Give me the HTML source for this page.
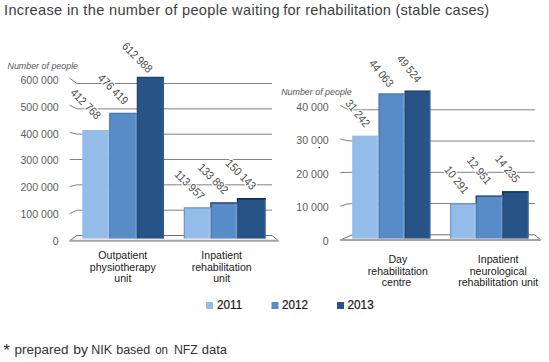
<!DOCTYPE html>
<html><head><meta charset="utf-8"><style>
html,body{margin:0;padding:0;background:#fff;width:549px;height:362px;overflow:hidden}
svg{display:block}
text{font-family:"Liberation Sans",sans-serif}
.t{font-size:14.6px;fill:#3d3d3d}
.fn{font-size:13.3px;fill:#333}
.g path{fill:none;stroke:#808080;stroke-width:1}
.fb{fill:none;stroke:#707070;stroke-width:1}
.ff{stroke:#a4a4a4;stroke-width:2}
.dl{fill:#505050;text-anchor:middle;stroke:#fff;stroke-width:2.2px;paint-order:stroke;stroke-linejoin:round}
.ax{font-size:10.6px;fill:#606060;text-anchor:end}
.np{font-size:8.9px;font-style:italic;fill:#555}
.cat{font-size:10.6px;fill:#1a1a1a;text-anchor:middle}
.lg{font-size:12.6px;fill:#1a1a1a;stroke:#1a1a1a;stroke-width:0.25px}
</style></head><body>
<svg width="549" height="362" viewBox="0 0 549 362">
<text class="t" x="4" y="14.8" textLength="275.5" lengthAdjust="spacing">Increase in the number of people waiting</text><text class="t" x="283.2" y="14.8" textLength="206.0" lengthAdjust="spacing">for rehabilitation (stable cases)</text>
<g class="g"><path d="M69.6,213.68 L76.8,210.17 L272,210.17" /><path d="M69.6,186.56 L76.8,184.84 L272,184.84" /><path d="M69.6,159.44 L76.8,159.51 L272,159.51" /><path d="M69.6,132.32 L76.8,134.18 L272,134.18" /><path d="M69.6,105.20 L76.8,108.85 L272,108.85" /><path d="M69.6,78.08 L76.8,83.52 L272,83.52" /><path d="M340.3,206.30 Q346.25,203.55 352.2,203.55 L534.8,203.55" /><path d="M340.3,172.60 Q346.25,172.30 352.2,172.30 L534.8,172.30" /><path d="M340.3,138.90 Q346.25,141.05 352.2,141.05 L534.8,141.05" /><path d="M340.3,105.20 Q346.25,109.80 352.2,109.80 L534.8,109.80" /></g>
<path class="fb" d="M69.6,240.8 L76.8,235.5 L272,235.5 L278.5,240.8" /><line class="ff" x1="69.6" y1="240.80" x2="278.5" y2="240.80" /><path class="fb" d="M340.3,240.0 L352.2,234.8 L534.8,234.8 L540.7,240.0" /><line class="ff" x1="340.3" y1="240.00" x2="540.7" y2="240.00" />
<rect x="82.3" y="130.0" width="26.90" height="108.60" fill="#93bce9" /><rect x="107.60" y="131.00" width="1" height="107.60" fill="#b5d3f5" opacity="0.5"/><rect x="109.2" y="112.8" width="27.70" height="125.80" fill="#588cc7" /><rect x="135.30" y="113.80" width="1" height="124.80" fill="#82aee0" opacity="0.5"/><path d="M109.50,130.00 L109.50,113.40 L136.60,113.40" fill="none" stroke="#1e406f" stroke-width="1.4" opacity="0.30"/><rect x="109.20" y="130.00" width="1.2" height="108.60" fill="#1e406f" opacity="0.25"/><rect x="136.9" y="76.8" width="27.10" height="161.80" fill="#285387" /><rect x="162.40" y="77.80" width="1" height="160.80" fill="#3c6aa5" opacity="0.5"/><path d="M137.20,112.80 L137.20,77.40 L163.70,77.40" fill="none" stroke="#0a1f40" stroke-width="1.4" opacity="0.30"/><rect x="136.90" y="112.80" width="1.2" height="125.80" fill="#0a1f40" opacity="0.25"/><rect x="183.8" y="207.4" width="26.80" height="31.20" fill="#93bce9" /><rect x="209.00" y="208.40" width="1" height="30.20" fill="#b5d3f5" opacity="0.5"/><path d="M184.30,238.60 L184.30,207.90 L210.30,207.90" fill="none" stroke="#5a82b5" stroke-width="1.1" opacity="0.7"/><rect x="210.6" y="202.4" width="26.60" height="36.20" fill="#588cc7" /><rect x="235.60" y="203.40" width="1" height="35.20" fill="#82aee0" opacity="0.5"/><path d="M210.90,207.40 L210.90,203.00 L236.90,203.00" fill="none" stroke="#1e406f" stroke-width="1.4" opacity="0.85"/><rect x="210.60" y="207.40" width="1.2" height="31.20" fill="#1e406f" opacity="0.25"/><rect x="237.2" y="198.1" width="28.50" height="40.50" fill="#285387" /><rect x="264.10" y="199.10" width="1" height="39.50" fill="#3c6aa5" opacity="0.5"/><path d="M237.50,202.40 L237.50,198.70 L265.40,198.70" fill="none" stroke="#0a1f40" stroke-width="1.4" opacity="0.85"/><rect x="237.20" y="202.40" width="1.2" height="36.20" fill="#0a1f40" opacity="0.25"/><rect x="352.2" y="135.6" width="26.40" height="103.00" fill="#93bce9" /><rect x="377.00" y="136.60" width="1" height="102.00" fill="#b5d3f5" opacity="0.5"/><rect x="378.6" y="93.4" width="26.00" height="145.20" fill="#588cc7" /><rect x="403.00" y="94.40" width="1" height="144.20" fill="#82aee0" opacity="0.5"/><path d="M378.90,135.60 L378.90,94.00 L404.30,94.00" fill="none" stroke="#1e406f" stroke-width="1.4" opacity="0.30"/><rect x="378.60" y="135.60" width="1.2" height="103.00" fill="#1e406f" opacity="0.25"/><rect x="404.6" y="90.5" width="25.90" height="148.10" fill="#285387" /><rect x="428.90" y="91.50" width="1" height="147.10" fill="#3c6aa5" opacity="0.5"/><path d="M404.90,93.40 L404.90,91.10 L430.20,91.10" fill="none" stroke="#0a1f40" stroke-width="1.4" opacity="0.30"/><rect x="404.60" y="93.40" width="1.2" height="145.20" fill="#0a1f40" opacity="0.25"/><rect x="450.2" y="203.5" width="25.70" height="35.10" fill="#93bce9" /><rect x="474.30" y="204.50" width="1" height="34.10" fill="#b5d3f5" opacity="0.5"/><path d="M450.70,238.60 L450.70,204.00 L475.60,204.00" fill="none" stroke="#5a82b5" stroke-width="1.1" opacity="0.7"/><rect x="475.9" y="195.5" width="26.40" height="43.10" fill="#588cc7" /><rect x="500.70" y="196.50" width="1" height="42.10" fill="#82aee0" opacity="0.5"/><path d="M476.20,203.50 L476.20,196.10 L502.00,196.10" fill="none" stroke="#1e406f" stroke-width="1.4" opacity="0.85"/><rect x="475.90" y="203.50" width="1.2" height="35.10" fill="#1e406f" opacity="0.25"/><rect x="502.3" y="191.3" width="26.40" height="47.30" fill="#285387" /><rect x="527.10" y="192.30" width="1" height="46.30" fill="#3c6aa5" opacity="0.5"/><path d="M502.60,195.50 L502.60,191.90 L528.40,191.90" fill="none" stroke="#0a1f40" stroke-width="1.4" opacity="0.85"/><rect x="502.30" y="195.50" width="1.2" height="43.10" fill="#0a1f40" opacity="0.25"/>
<text class="dl" style="font-size:11.55px" x="0" y="0" transform="translate(137.5 57.3) rotate(45) scale(0.9 1)" dominant-baseline="central">612 988</text><text class="dl" style="font-size:11.55px" x="0" y="0" transform="translate(113.3 89.0) rotate(45) scale(0.9 1)" dominant-baseline="central">476 419</text><text class="dl" style="font-size:11.55px" x="0" y="0" transform="translate(85.9 103.8) rotate(45) scale(0.9 1)" dominant-baseline="central">412 768</text><text class="dl" style="font-size:11.55px" x="0" y="0" transform="translate(189.8 184.9) rotate(45) scale(0.9 1)" dominant-baseline="central">113 957</text><text class="dl" style="font-size:11.55px" x="0" y="0" transform="translate(213.4 178.5) rotate(45) scale(0.9 1)" dominant-baseline="central">133 882</text><text class="dl" style="font-size:11.55px" x="0" y="0" transform="translate(241.1 174.3) rotate(45) scale(0.9 1)" dominant-baseline="central">150 143</text><text class="dl" style="font-size:11.45px" x="0" y="0" transform="translate(357.9 113.0) rotate(51) scale(0.9 1)" dominant-baseline="central">31 242</text><text class="dl" style="font-size:11.45px" x="0" y="0" transform="translate(381.6 73.1) rotate(51) scale(0.9 1)" dominant-baseline="central">44 063</text><text class="dl" style="font-size:11.45px" x="0" y="0" transform="translate(409.5 68.5) rotate(51) scale(0.9 1)" dominant-baseline="central">49 524</text><text class="dl" style="font-size:11.45px" x="0" y="0" transform="translate(456.8 179.7) rotate(51) scale(0.9 1)" dominant-baseline="central">10 291</text><text class="dl" style="font-size:11.45px" x="0" y="0" transform="translate(479.4 170.2) rotate(51) scale(0.9 1)" dominant-baseline="central">12 951</text><text class="dl" style="font-size:11.45px" x="0" y="0" transform="translate(507.7 168.6) rotate(51) scale(0.9 1)" dominant-baseline="central">14 235</text>
<text class="np" x="7.5" y="69">Number of people</text>
<text class="np" x="281.2" y="95">Number of people</text>
<text class="ax" x="58.7" y="245.10">0</text><text class="ax" x="58.7" y="218.22">100 000</text><text class="ax" x="58.7" y="191.35">200 000</text><text class="ax" x="58.7" y="164.47">300 000</text><text class="ax" x="58.7" y="137.60">400 000</text><text class="ax" x="58.7" y="110.72">500 000</text><text class="ax" x="58.7" y="83.85">600 000</text><text class="ax" x="328.7" y="244.60">0</text><text class="ax" x="328.7" y="211.17">10 000</text><text class="ax" x="328.7" y="177.74">20 000</text><text class="ax" x="328.7" y="144.31">30 000</text><text class="ax" x="328.7" y="110.88">40 000</text>
<text class="cat" x="122.8" y="259.00">Outpatient</text><text class="cat" x="122.8" y="270.70">physiotherapy</text><text class="cat" x="122.8" y="282.40">unit</text><text class="cat" x="221.7" y="259.00">Inpatient</text><text class="cat" x="221.7" y="270.70">rehabilitation</text><text class="cat" x="221.7" y="282.40">unit</text><text class="cat" x="397.8" y="263.00">Day</text><text class="cat" x="397.8" y="274.70">rehabilitation</text><text class="cat" x="396.5" y="286.40">centre</text><text class="cat" x="498.2" y="263.00">Inpatient</text><text class="cat" x="498.2" y="274.70">neurological</text><text class="cat" x="498.2" y="286.40">rehabilitation unit</text>
<rect x="206" y="302" width="7" height="7" fill="#93bce9"/><text class="lg" transform="translate(217,309.3) scale(0.93,1)">2011</text>
<rect x="271.5" y="302" width="7" height="7" fill="#588cc7"/><text class="lg" transform="translate(282,309.3) scale(0.93,1)">2012</text>
<rect x="337" y="302" width="7" height="7" fill="#285387"/><text class="lg" transform="translate(347.6,309.3) scale(0.93,1)">2013</text>
<text class="fn" x="14.60" y="354.2" textLength="53.93" lengthAdjust="spacingAndGlyphs">prepared</text><text class="fn" x="73.20" y="354.2" textLength="14.75" lengthAdjust="spacingAndGlyphs">by</text><text class="fn" x="91.30" y="354.2" textLength="20.77" lengthAdjust="spacingAndGlyphs">NIK</text><text class="fn" x="116.20" y="354.2" textLength="34.03" lengthAdjust="spacingAndGlyphs">based</text><text class="fn" x="155.20" y="354.2" textLength="12.80" lengthAdjust="spacingAndGlyphs">on</text><text class="fn" x="173.90" y="354.2" textLength="23.86" lengthAdjust="spacingAndGlyphs">NFZ</text><text class="fn" x="201.80" y="354.2" textLength="25.29" lengthAdjust="spacingAndGlyphs">data</text><text class="fn" x="3.4" y="355.7" style="font-size:16.5px">*</text>
<rect x="318.5" y="147" width="1.5" height="1.2" fill="#222"/>
</svg>
</body></html>
